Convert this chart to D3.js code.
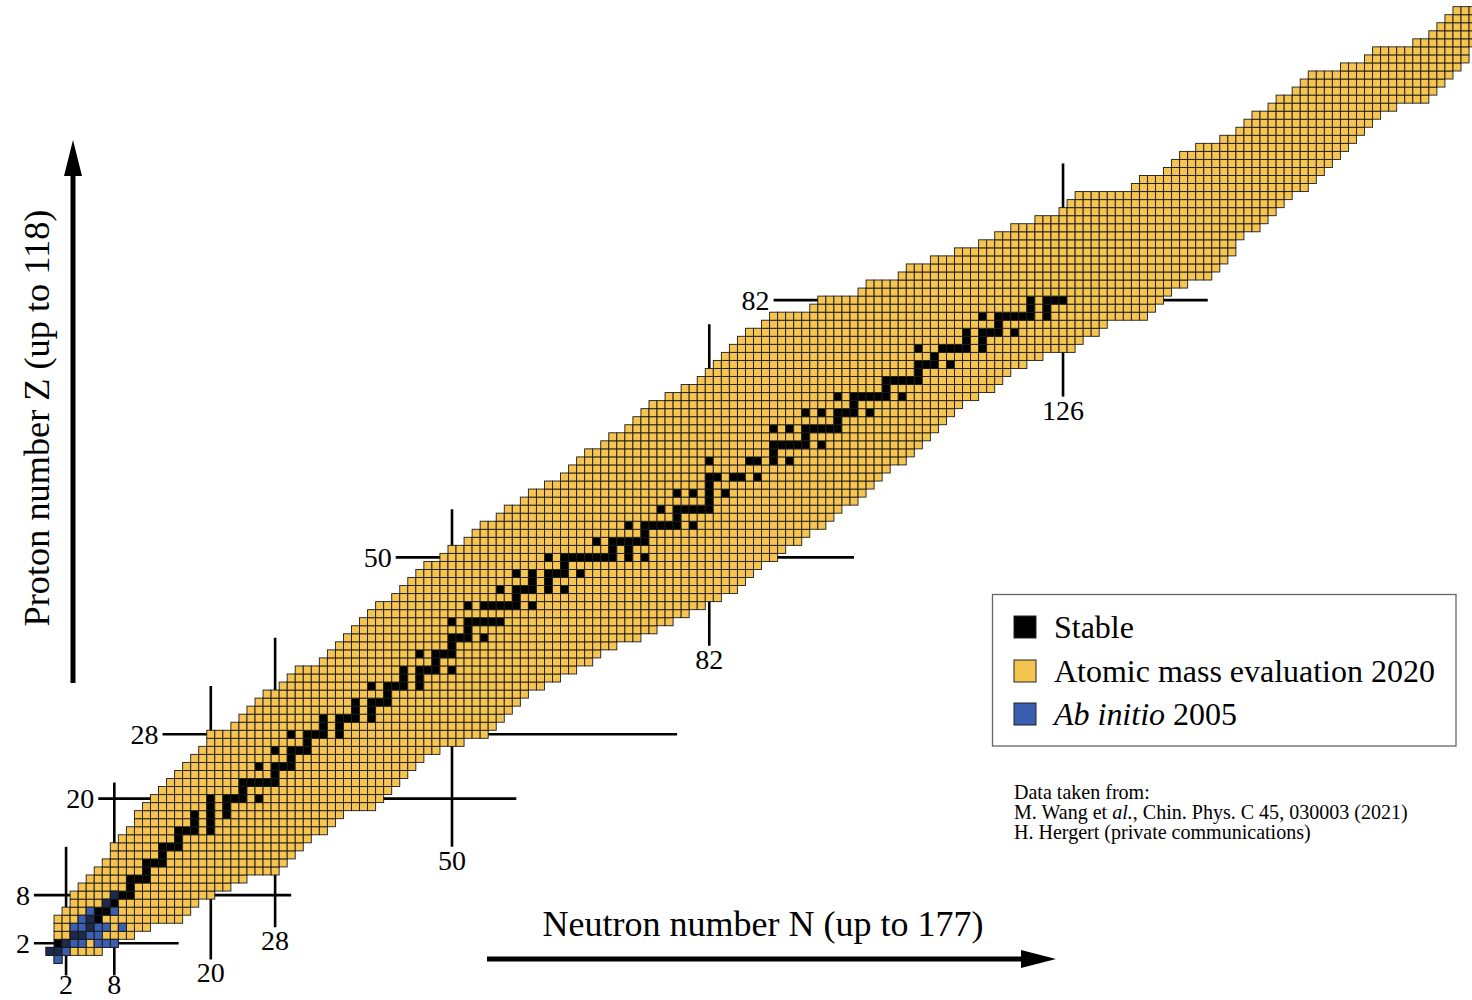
<!DOCTYPE html>
<html><head><meta charset="utf-8">
<script src="https://cdn.jsdelivr.net/npm/d3@7/dist/d3.min.js"></script>
<style>body{margin:0;background:#fff}svg{display:block}</style>
</head><body>
<svg id="chart" width="1472" height="1000"></svg>
<script>
// ---------------- data ----------------
// lightest and heaviest neutron number present for each proton number Z = 0..118
const nMin = [1,0,1,1,1,1,2,3,3,4, 5,6,7,8,8,9,10,11,11,12,
  13,14,15,16,17,18,19,20,20,23, 24,25,26,27,29,30,31,34,35,36,
  37,38,39,40,41,43,44,45,46,47, 49,50,52,53,54,56,57,59,60,62,
  64,65,66,67,69,70,72,73,74,75, 77,79,81,82,83,84,85,86,87,89,
  90,95,96,101,102,106,107,110,113,116, 118,120,123,126,127,128,135,136,139,140,
  141,143,146,148,149,150,152,153,155,156, 157,161,164,165,170,172,173,174,175];
const nMax = [1,6,8,10,12,16,17,18,20,22, 24,28,29,30,31,32,34,35,36,40,
  41,42,43,44,45,46,48,51,54,55, 56,57,58,59,61,63,65,67,68,70,
  73,75,77,79,81,83,85,86,87,88, 90,91,93,94,96,97,98,100,101,102,
  103,104,106,107,108,109,110,111,112,113, 115,117,118,119,121,123,127,128,130,131,
  136,137,138,139,141,144,145,146,147,147, 148,150,151,152,153,154,156,157,158,159,
  160,161,162,163,164,165,167,171,172,173, 174,175,176,176,177,177,177,177,177];
// stable neutron numbers for each Z = 0..82
const stableN = [[],[0,1],[1,2],[3,4],[5],[5,6],[6,7],[7,8],[8,9,10],[10],
  [10,11,12],[12],[12,13,14],[14],[14,15,16],[16],[16,17,18,20],[18,20],[18,20,22],[20,22],
  [20,22,23,24,26],[24],[24,25,26,27,28],[28],[26,28,29,30],[30],[28,30,31,32],[32],[30,32,33,34,36],[34,36],
  [34,36,37,38,40],[38,40],[38,40,41,42],[42],[40,42,43,44,46],[44,46],[44,46,47,48,50],[48],[46,48,49,50],[50],
  [50,51,52,54],[52],[50,52,53,54,55,56],[],[52,54,55,56,57,58,60],[58],[56,58,59,60,62,64],[60,62],[58,60,62,63,64,66],[64],
  [62,64,65,66,67,68,69,70,72,74],[70,72],[68,70,71,72,73,74],[74],[72,74,75,76,77,78,80],[78],[76,78,79,80,81,82],[82],[78,80,82,84],[82],
  [82,83,85,86,88],[],[82,87,88,90,92],[90],[90,91,92,93,94,96],[94],[90,92,94,95,96,97,98],[98],[94,96,98,99,100,102],[100],
  [98,100,101,102,103,104,106],[104],[104,105,106,107,108],[108],[108,109,110,112],[110],[108,111,112,113,114,116],[114,116],[114,116,117,118,120],[118],
  [116,118,119,120,121,122,124],[122,124],[122,124,125,126]];
// ab initio 2005 nuclei (N, Z)
const abInitioN = [1, 0,1,2, 2,3,4,6,7,8, 3,4,5,6, 3,4,5,6,7,9, 4,5, 5,8, 7, 8];
const abInitioZ = [0, 1,1,1, 2,2,2,2,2,2, 3,3,3,3, 4,4,4,4,4,4, 5,5, 6,6, 7, 8];
// magic numbers
const magicN = [2, 8, 20, 28, 50, 82, 126];
const magicZ = [2, 8, 20, 28, 50, 82];
const legendLabels = ["Stable", "Atomic mass evaluation 2020", "Ab initio 2005"];
const sourceLines = ["Data taken from:", "M. Wang et al., Chin. Phys. C 45, 030003 (2021)", "H. Hergert (private communications)"];
const xTitle = "Neutron number N (up to 177)";
const yTitle = "Proton number Z (up to 118)";

// ---------------- layout ----------------
const layout = {
  magicNSpan: [[-2,14],[-2,22],[0,34],[4,40],[14,56],[39,79],[70,99]],
  magicZSpan: [[-2,16],[-2,30],[6,58],[14,78],[43,100],[90,144]]
};
const colors = {ame: "#f5c451", stable: "#000000", ab: "#3c5eb0", both: "#1c2a50", edge: "#1a1a1a"};
const serif = "'Liberation Serif','Times New Roman','DejaVu Serif',serif";

const svg = d3.select("#chart");
const x = d3.scaleLinear().domain([0, 177]).range([50, 50 + 8.04 * 177]);
const y = d3.scaleLinear().domain([0, 118]).range([959.4, 959.4 - 8.04 * 118]);
const cw = x(1) - x(0), ch = y(0) - y(1);

const cells = [];
nMin.forEach((lo, Z) => {
  for (let N = lo; N <= nMax[Z]; N++) {
    cells.push({N, Z, stable: (stableN[Z] || []).includes(N)});
  }
});
const abCells = abInitioN.map((N, i) => {
  const Z = abInitioZ[i];
  return {N, Z, stable: (stableN[Z] || []).includes(N)};
});

// magic lines (behind the cells)
const gLines = svg.append("g").attr("stroke", "#000").attr("stroke-width", 2.6);
magicZ.forEach((Z, i) => {
  const s = layout.magicZSpan[i];
  gLines.append("line").attr("x1", x(s[0])).attr("x2", x(s[1])).attr("y1", y(Z)).attr("y2", y(Z));
});
magicN.forEach((N, i) => {
  const s = layout.magicNSpan[i];
  gLines.append("line").attr("x1", x(N)).attr("x2", x(N)).attr("y1", y(s[0])).attr("y2", y(s[1]));
});

// nuclide cells
svg.append("g").selectAll("rect").data(cells).join("rect")
  .attr("x", d => x(d.N) - cw / 2).attr("y", d => y(d.Z) - ch / 2)
  .attr("width", cw).attr("height", ch)
  .attr("fill", d => d.stable ? colors.stable : colors.ame)
  .attr("stroke", colors.edge).attr("stroke-width", 0.9);

svg.append("g").selectAll("rect").data(abCells).join("rect")
  .attr("x", d => x(d.N) - cw / 2).attr("y", d => y(d.Z) - ch / 2)
  .attr("width", cw).attr("height", ch)
  .attr("fill", d => d.stable ? colors.both : colors.ab)
  .attr("stroke", colors.edge).attr("stroke-width", 0.9);

// magic labels
const magicFs = 28;
const gLab = svg.append("g").attr("font-family", serif).attr("font-size", magicFs).attr("fill", "#000");
magicZ.forEach((Z, i) => {
  const s = layout.magicZSpan[i];
  gLab.append("text").attr("x", x(s[0]) - 4).attr("y", y(Z) + 0.34 * magicFs)
    .attr("text-anchor", "end").text(Z);
});
magicN.forEach((N, i) => {
  const s = layout.magicNSpan[i];
  gLab.append("text").attr("x", x(N)).attr("y", Math.min(y(s[0]) + 23, 994))
    .attr("text-anchor", "middle").text(N);
});

function fitText(sel, width) {
  const w = sel.node().getComputedTextLength();
  const fs = parseFloat(sel.attr("font-size"));
  sel.attr("font-size", fs * width / w);
  return fs * width / w;
}

// axis titles and arrows
const xt = svg.append("text").attr("font-family", serif).attr("font-size", 32)
  .attr("x", 763).attr("y", 936).attr("text-anchor", "middle").text(xTitle);
fitText(xt, 441);
const yt = svg.append("text").attr("font-family", serif).attr("font-size", 32)
  .attr("transform", "translate(49,418) rotate(-90)").attr("text-anchor", "middle").text(yTitle);
fitText(yt, 417);

svg.append("rect").attr("x", 487).attr("y", 956.5).attr("width", 537).attr("height", 5).attr("fill", "#000");
svg.append("path").attr("d", "M1021,950 L1056,959 L1021,968 Z").attr("fill", "#000");
svg.append("rect").attr("x", 70.5).attr("y", 172).attr("width", 5).attr("height", 511).attr("fill", "#000");
svg.append("path").attr("d", "M64,176 L73,140 L82,176 Z").attr("fill", "#000");

// legend
svg.append("rect").attr("x", 992.5).attr("y", 594.5).attr("width", 463.5).attr("height", 151.5)
  .attr("fill", "#fff").attr("stroke", "#666").attr("stroke-width", 1.3);
const legFill = [colors.stable, colors.ame, colors.ab];
const legBase = [638, 682, 725];
const legG = svg.append("g").attr("font-family", serif);
legendLabels.forEach((t, i) => {
  legG.append("rect").attr("x", 1014).attr("y", legBase[i] - 22).attr("width", 22).attr("height", 22)
    .attr("fill", legFill[i]).attr("stroke", "#222").attr("stroke-width", 1);
});
const lt = legendLabels.map((t, i) => {
  const tx = legG.append("text").attr("x", 1054).attr("y", legBase[i]).attr("font-size", 30);
  if (i === 2) {
    tx.append("tspan").attr("font-style", "italic").text("Ab initio");
    tx.append("tspan").text(" 2005");
  } else tx.text(t);
  return tx;
});
const lfs = fitText(lt[1], 381);
lt.forEach(t => t.attr("font-size", lfs));

// source note
const sg = svg.append("g").attr("font-family", serif);
const sBase = [799, 819, 839];
const st = sourceLines.map((t, i) => {
  const tx = sg.append("text").attr("x", 1014).attr("y", sBase[i]).attr("font-size", 18);
  if (i === 1) {
    tx.append("tspan").text("M. Wang et ");
    tx.append("tspan").attr("font-style", "italic").text("al.");
    tx.append("tspan").text(", Chin. Phys. C 45, 030003 (2021)");
  } else tx.text(t);
  return tx;
});
const sfs = fitText(st[1], 394);
st.forEach(t => t.attr("font-size", sfs));
</script>
</body></html>
